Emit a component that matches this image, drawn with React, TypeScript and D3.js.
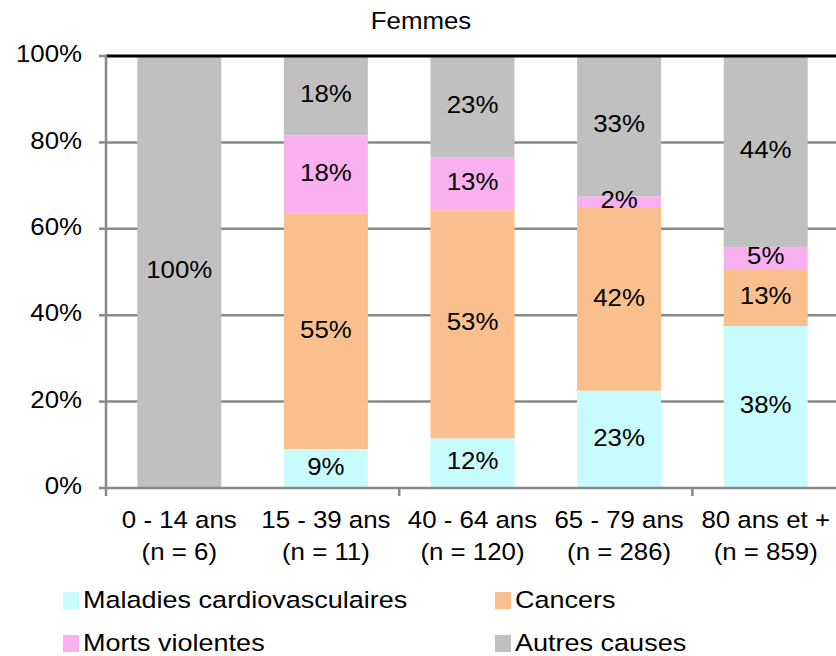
import React from "react";
import * as d3 from "d3";

const categories = ["0 - 14 ans", "15 - 39 ans", "40 - 64 ans", "65 - 79 ans", "80 ans et +"];
const counts = ["(n = 6)", "(n = 11)", "(n = 120)", "(n = 286)", "(n = 859)"];
const seriesNames = ["Maladies cardiovasculaires", "Cancers", "Morts violentes", "Autres causes"];
const cardio = [0, 9.0, 11.5, 22.5, 37.5];
const cancers = [0, 54.5, 52.8, 42.3, 13.2];
const violent = [0, 18.1, 12.3, 2.7, 5.1];
const autres = [100, 18.4, 23.4, 32.5, 44.2];
const cardioLabels = [null, "9%", "12%", "23%", "38%"];
const cancersLabels = [null, "55%", "53%", "42%", "13%"];
const violentLabels = [null, "18%", "13%", "2%", "5%"];
const autresLabels = ["100%", "18%", "23%", "33%", "44%"];
const yTicks = [0, 20, 40, 60, 80, 100];
const colors = ["#C8FCFC", "#F9C08E", "#F9B0F0", "#C0C0C0"];

const W = 836, H = 656;
const left = 106, top = 56, bottom = 488;
const step = 146.6;
const FONT = "'Liberation Sans', Arial, sans-serif";
const FS = 23.5;
const SX = 1.1;

function T({ x, y, children, anchor = "middle", base = "middle", sx = SX, fs = FS }: any) {
  return (
    <text
      transform={`translate(${x},${y}) scale(${sx},1)`}
      textAnchor={anchor}
      dominantBaseline={base}
      fontFamily={FONT}
      fontSize={fs}
      fill="#000"
    >
      {children}
    </text>
  );
}

export default function App() {
  const x = d3.scaleBand<string>().domain(categories).range([left, left + step * 5]).paddingInner(0.427).paddingOuter(0.2135);
  const y = d3.scaleLinear().domain([0, 100]).range([bottom, top]);
  const series = [cardio, cancers, violent, autres];
  const labels = [cardioLabels, cancersLabels, violentLabels, autresLabels];

  const rows = categories.map((c, i) => ({ cat: c, s0: cardio[i], s1: cancers[i], s2: violent[i], s3: autres[i] }));
  const stack = d3.stack<any>().keys(["s0", "s1", "s2", "s3"])(rows);

  const tickXs = [left, left + step * 2, left + step * 4];

  const legendItems = [
    { x: 63, y: 600 },
    { x: 495, y: 600 },
    { x: 63, y: 643 },
    { x: 495, y: 643 },
  ];

  return (
    <svg width={W} height={H} style={{ position: "absolute", left: 0, top: 0, background: "#fff" }}>
      <rect x={0} y={0} width={W} height={H} fill="#fff" />
      <T x={421} y={23}>Femmes</T>

      {/* gridlines */}
      {yTicks.filter((t) => t !== 0 && t !== 100).map((t) => (
        <line key={t} x1={left} x2={W} y1={y(t)} y2={y(t)} stroke="#888" strokeWidth={2.5} />
      ))}

      {/* bars */}
      {stack.map((layer, si) =>
        layer.map((d, ci) => {
          const v = series[si][ci];
          if (!v) return null;
          return (
            <rect
              key={`${si}-${ci}`}
              x={x(categories[ci])}
              width={x.bandwidth()}
              y={y(d[1])}
              height={y(d[0]) - y(d[1])}
              fill={colors[si]}
            />
          );
        })
      )}

      {/* top line */}
      <line x1={left} x2={W} y1={y(100)} y2={y(100)} stroke="#000" strokeWidth={3} />
      {/* y axis */}
      <line x1={left} x2={left} y1={y(100) - 1} y2={bottom + 1} stroke="#888" strokeWidth={2.5} />
      {yTicks.map((t) => (
        <g key={t}>
          <line x1={left - 7} x2={left} y1={y(t)} y2={y(t)} stroke="#888" strokeWidth={2.5} />
          <T x={82} y={y(t)} anchor="end">{`${t}%`}</T>
        </g>
      ))}
      {/* x axis */}
      <line x1={left} x2={W} y1={bottom} y2={bottom} stroke="#888" strokeWidth={2.5} />
      {tickXs.map((tx, i) => (
        <line key={i} x1={tx} x2={tx} y1={bottom} y2={bottom + 8} stroke="#888" strokeWidth={2.5} />
      ))}
      {categories.map((c, i) => {
        const cx = (x(c) as number) + x.bandwidth() / 2;
        return (
          <g key={c}>
            <T x={cx} y={528} base="alphabetic">{c}</T>
            <T x={cx} y={560} base="alphabetic">{counts[i]}</T>
          </g>
        );
      })}

      {/* data labels */}
      {stack.map((layer, si) =>
        layer.map((d, ci) => {
          const lab = labels[si][ci];
          if (!lab) return null;
          const cx = (x(categories[ci]) as number) + x.bandwidth() / 2;
          return (
            <T key={`l${si}-${ci}`} x={cx} y={y((d[0] + d[1]) / 2)}>
              {lab}
            </T>
          );
        })
      )}

      {/* legend */}
      {seriesNames.map((n, i) => (
        <g key={n}>
          <rect x={legendItems[i].x} y={legendItems[i].y - 8} width={16} height={17} fill={colors[i]} />
          <T x={legendItems[i].x + 20} y={legendItems[i].y + 8} anchor="start" base="alphabetic" sx={1.15}>
            {n}
          </T>
        </g>
      ))}
    </svg>
  );
}
